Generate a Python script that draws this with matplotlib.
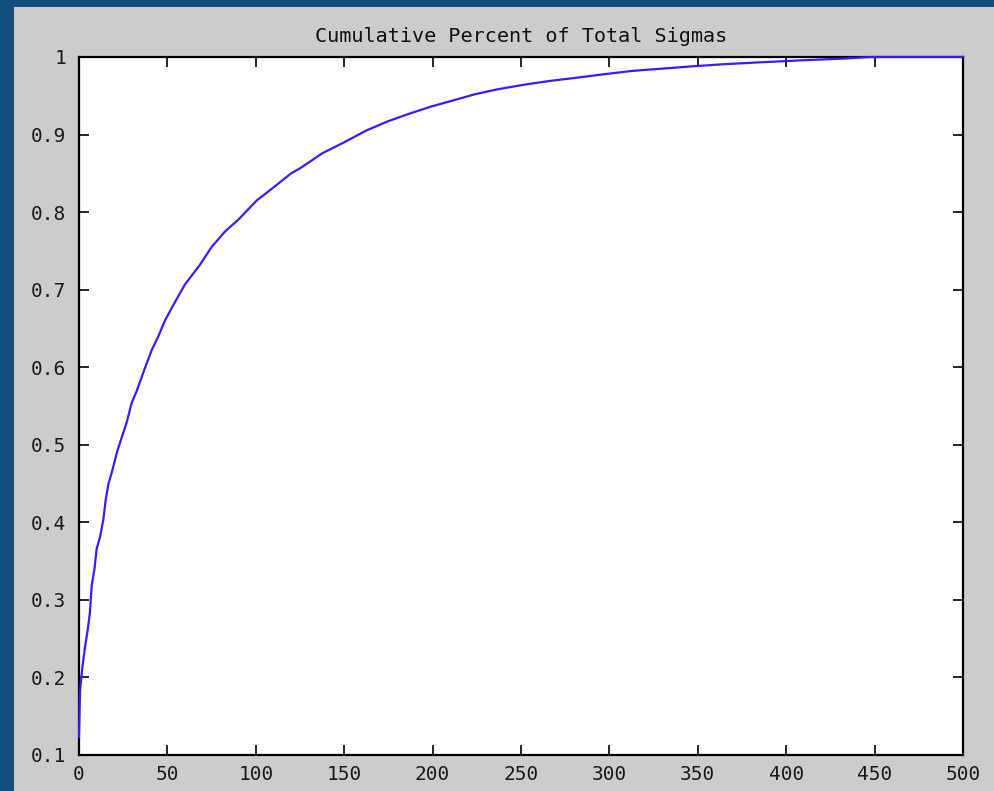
import matplotlib
matplotlib.use("Agg")
import matplotlib.pyplot as plt
from matplotlib.patches import Rectangle

sigma_index = [0, 0.6, 1.9, 3.4, 4.9, 6.2, 7.2, 8.7, 10, 11.9, 13.8, 15.1, 16.6, 18.5,
               21.7, 24.1, 27, 29.8, 32.6, 37, 41.1, 44.9, 48.6, 53.3, 60, 68.4, 75,
               82.6, 90, 100.5, 109, 120, 125.4, 137.7, 150, 162.3, 174.6, 187, 199,
               211.6, 224, 236, 251, 265.8, 280.5, 297.8, 312.6, 329.8, 347, 364, 384,
               408.6, 433, 448, 500]
cumulative = [0.123, 0.183, 0.213, 0.239, 0.261, 0.284, 0.319, 0.339, 0.366, 0.381,
              0.404, 0.429, 0.449, 0.464, 0.492, 0.509, 0.529, 0.554, 0.569, 0.597,
              0.622, 0.640, 0.660, 0.680, 0.707, 0.732, 0.755, 0.775, 0.790, 0.815,
              0.830, 0.850, 0.857, 0.876, 0.890, 0.905, 0.917, 0.927, 0.936, 0.944,
              0.952, 0.958, 0.964, 0.969, 0.973, 0.978, 0.982, 0.985, 0.988, 0.9906,
              0.993, 0.9957, 0.998, 1.0, 1.0]
x_ticks = [0, 50, 100, 150, 200, 250, 300, 350, 400, 450, 500]
y_ticks = [0.1, 0.2, 0.3, 0.4, 0.5, 0.6, 0.7, 0.8, 0.9, 1.0]
y_tick_labels = ["0.1", "0.2", "0.3", "0.4", "0.5", "0.6", "0.7", "0.8", "0.9", "1"]
title = "Cumulative Percent of Total Sigmas"

W, H = 995, 791
fig = plt.figure(figsize=(W / 100, H / 100), dpi=100)
fig.patch.set_facecolor("#154f7f")
fig.patches.append(Rectangle((14 / W, 0), 1, (H - 7) / H, transform=fig.transFigure,
                             facecolor="#cccccc", edgecolor="none", zorder=-10))

ax = fig.add_axes([79 / W, (H - 755) / H, (963 - 79) / W, (755 - 57) / H])
ax.set_zorder(5)
ax.set_facecolor("white")
ax.plot(sigma_index, cumulative, color="#3a1aff", lw=1.6, clip_on=False, zorder=3)
ax.set_xlim(0, 500)
ax.set_ylim(0.1, 1.0)
ax.set_xticks(x_ticks)
ax.set_xticklabels([str(v) for v in x_ticks])
ax.set_yticks(y_ticks)
ax.set_yticklabels(y_tick_labels)

mono = "DejaVu Sans Mono"
ax.tick_params(direction="in", length=7, width=1.2, top=True, right=True,
               labelsize=14, color="black", labelcolor="#1a1a1a")
ax.tick_params(axis="y", pad=9)
ax.tick_params(axis="x", pad=7)
for lab in ax.get_xticklabels() + ax.get_yticklabels():
    lab.set_family(mono)
for s in ax.spines.values():
    s.set_linewidth(1.6)
    s.set_color("black")
ax.set_title(title, fontsize=14.5, family=mono, color="#111111", pad=11)

fig.savefig("out.png", dpi=100, facecolor=fig.get_facecolor())
